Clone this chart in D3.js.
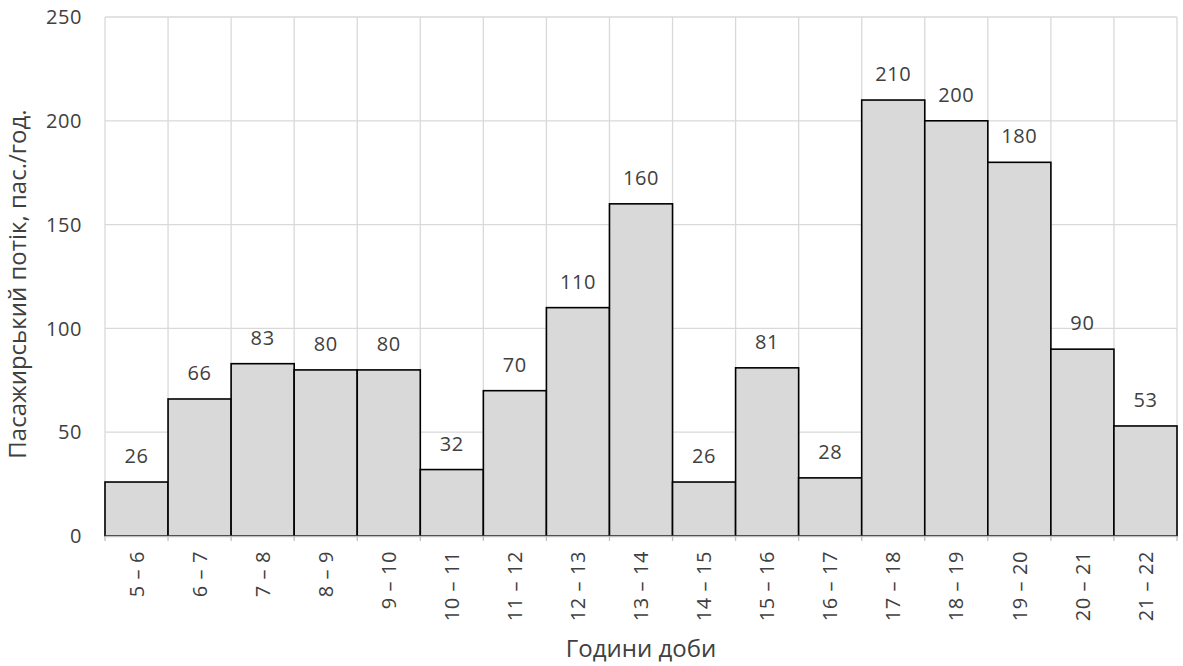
<!DOCTYPE html>
<html><head><meta charset="utf-8">
<script src="https://cdn.jsdelivr.net/npm/d3@7"></script>
<style>body{margin:0;background:#fff}svg{display:block}text{font-family:"Open Sans",Inter,sans-serif;fill:#404040}</style>
</head><body><svg id="c" width="1183" height="666"></svg>
<script>
const categories = ["5 – 6","6 – 7","7 – 8","8 – 9","9 – 10","10 – 11","11 – 12","12 – 13","13 – 14","14 – 15","15 – 16","16 – 17","17 – 18","18 – 19","19 – 20","20 – 21","21 – 22"];
const values = [26,66,83,80,80,32,70,110,160,26,81,28,210,200,180,90,53];
const yTicks = [0,50,100,150,200,250];
const xTitle = "Години доби";
const yTitle = "Пасажирський потік, пас./год.";

const svg = d3.select("#c");
const L=105, R=1177, T=17, B=536;
const FS=20, TFS=24, LS="0.6px";
const x = d3.scaleBand().domain(categories).range([L,R]).padding(0);
const y = d3.scaleLinear().domain([0,250]).range([B,T]);

svg.append("g").selectAll("line").data(yTicks.filter(d=>d>0)).join("line")
  .attr("x1",L).attr("x2",R).attr("y1",d=>y(d)).attr("y2",d=>y(d))
  .attr("stroke","#d9d9d9").attr("stroke-width",1.3);
const bounds = categories.map(c=>x(c)).concat([x(categories[categories.length-1])+x.bandwidth()]);
svg.append("g").selectAll("line").data(bounds).join("line")
  .attr("x1",d=>d).attr("x2",d=>d).attr("y1",T).attr("y2",B)
  .attr("stroke","#d9d9d9").attr("stroke-width",1.3);

svg.append("g").selectAll("rect").data(values).join("rect")
  .attr("x",(d,i)=>x(categories[i])).attr("width",x.bandwidth())
  .attr("y",d=>y(d)).attr("height",d=>B-y(d))
  .attr("fill","#d9d9d9").attr("stroke","#000").attr("stroke-width",1.6);

svg.append("line").attr("x1",L).attr("x2",R).attr("y1",B+0.5).attr("y2",B+0.5).attr("stroke","#bfbfbf").attr("stroke-width",1.3);
svg.append("g").selectAll("line").data(bounds).join("line")
  .attr("x1",d=>d).attr("x2",d=>d).attr("y1",B).attr("y2",B+5)
  .attr("stroke","#bfbfbf").attr("stroke-width",1.3);

svg.append("g").selectAll("text").data(values).join("text")
  .attr("x",(d,i)=>x(categories[i])+x.bandwidth()/2).attr("y",d=>y(d)-19)
  .attr("text-anchor","middle").attr("font-size",FS).attr("letter-spacing",LS).text(d=>d);

svg.append("g").selectAll("text").data(yTicks).join("text")
  .attr("x",82).attr("y",d=>y(d)).attr("dy","0.36em")
  .attr("text-anchor","end").attr("font-size",FS).attr("letter-spacing",LS).attr("fill","#595959").text(d=>d);

svg.append("g").selectAll("text").data(categories).join("text")
  .attr("transform",d=>`translate(${x(d)+x.bandwidth()/2},551) rotate(-90)`)
  .attr("dy","0.36em").attr("text-anchor","end").attr("font-size",FS).attr("letter-spacing",LS).attr("fill","#595959").text(d=>d);

svg.append("text").attr("x",641).attr("y",657).attr("text-anchor","middle").attr("font-size",TFS).attr("fill","#595959").text(xTitle);
svg.append("text").attr("transform",`translate(26,284) rotate(-90)`).attr("text-anchor","middle").attr("font-size",TFS).attr("fill","#595959").text(yTitle);
</script></body></html>
